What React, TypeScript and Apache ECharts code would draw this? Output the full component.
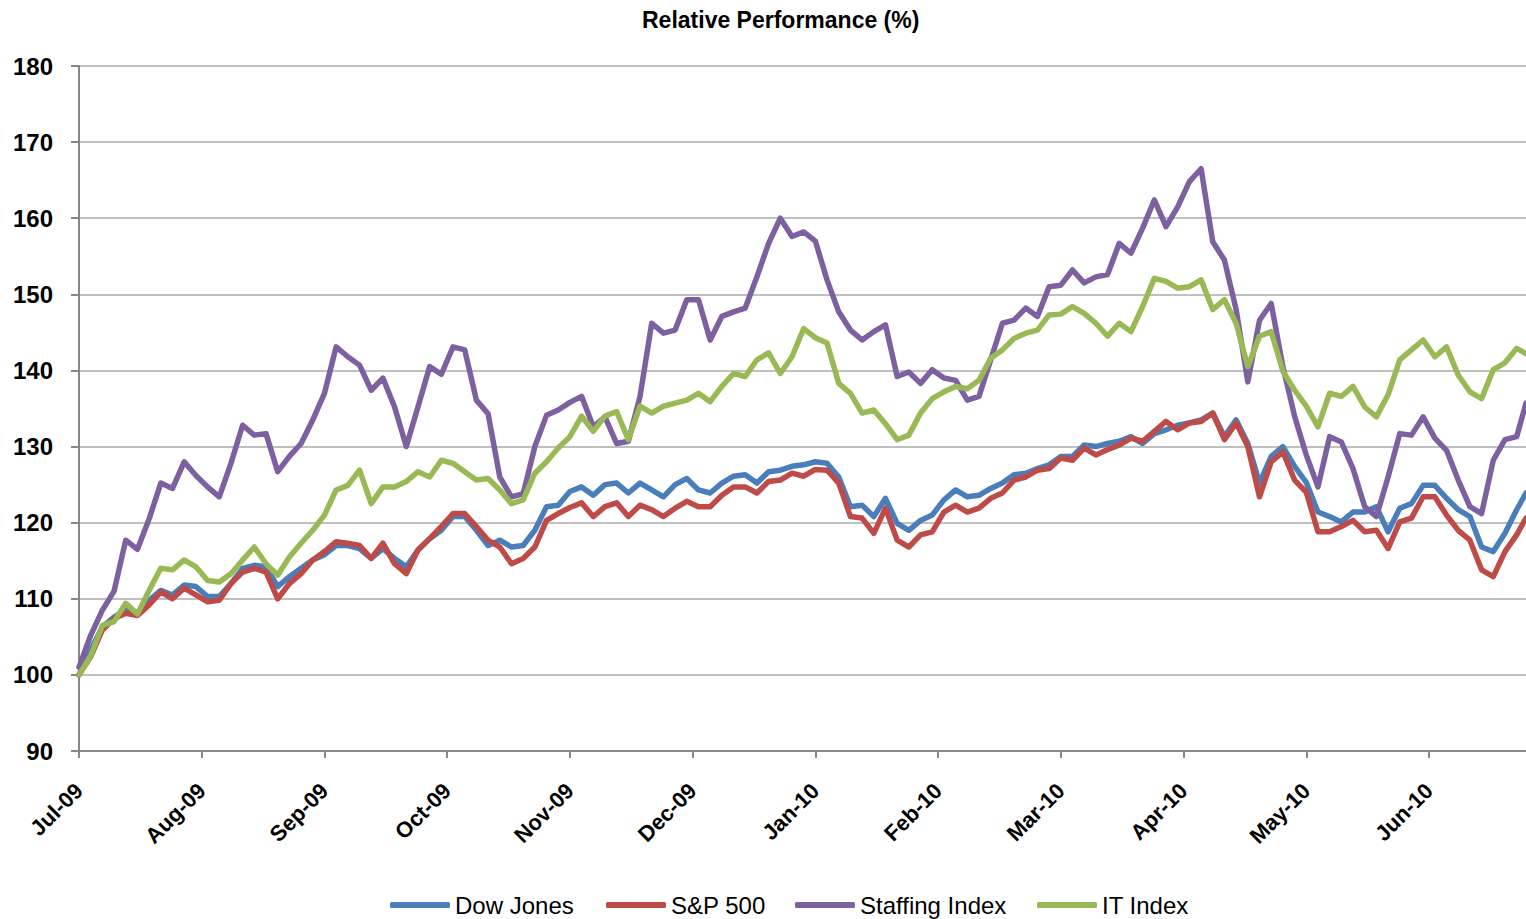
import React, { useEffect, useRef } from "react";
import * as echarts from "echarts";

// Trading-day index of each sampled point (every 2nd trading day; last = right edge)
const tradingDay = [
  0, 2, 4, 6, 8, 10, 12, 14, 16, 18, 20, 22, 24, 26, 28, 30, 32, 34, 36, 38,
  40, 42, 44, 46, 48, 50, 52, 54, 56, 58, 60, 62, 64, 66, 68, 70, 72, 74, 76, 78,
  80, 82, 84, 86, 88, 90, 92, 94, 96, 98, 100, 102, 104, 106, 108, 110, 112, 114, 116, 118,
  120, 122, 124, 126, 128, 130, 132, 134, 136, 138, 140, 142, 144, 146, 148, 150, 152, 154, 156, 158,
  160, 162, 164, 166, 168, 170, 172, 174, 176, 178, 180, 182, 184, 186, 188, 190, 192, 194, 196, 198,
  200, 202, 204, 206, 208, 210, 212, 214, 216, 218, 220, 222, 224, 226, 228, 230, 232, 234, 236, 238,
  240, 242, 244, 246, 247.6,
];

const monthLabels = [
  "Jul-09", "Aug-09", "Sep-09", "Oct-09", "Nov-09", "Dec-09",
  "Jan-10", "Feb-10", "Mar-10", "Apr-10", "May-10", "Jun-10",
];

const dowJones = [
  100, 103.3, 106.3, 107.6, 108.5, 108.1, 109.8, 111.1, 110.5, 111.8, 111.6, 110.3, 110.3, 112, 114, 114.4, 114.2, 111.6, 112.9, 114,
  115.1, 115.8, 117, 117, 116.6, 115.3, 116.6, 115.3, 114.2, 116.4, 117.9, 119, 120.8, 120.8, 119, 117, 117.7, 116.8, 117, 119,
  122.1, 122.3, 124.1, 124.7, 123.6, 125, 125.2, 123.9, 125.2, 124.3, 123.4, 125, 125.8, 124.3, 123.9, 125.2, 126.1, 126.3, 125.2, 126.7,
  126.9, 127.4, 127.6, 128, 127.8, 126, 122.1, 122.3, 120.8, 123.2, 119.9, 119, 120.3, 121, 123, 124.3, 123.4, 123.6, 124.5, 125.2,
  126.3, 126.5, 127.1, 127.6, 128.7, 128.7, 130.2, 130, 130.4, 130.7, 131.3, 130.4, 131.7, 132.2, 132.8, 133.1, 133.5, 134.4, 131.3, 133.5,
  130.4, 125.2, 128.7, 130, 127.4, 125.3, 121.4, 120.8, 120.1, 121.4, 121.4, 122.1, 118.8, 121.9, 122.5, 124.9, 124.9, 123.2, 121.7, 120.8,
  116.8, 116.2, 118.6, 121.7, 123.9,
];

const sp500 = [
  100, 102.4, 105.9, 107.4, 108.1, 107.8, 109.2, 110.9, 110, 111.4, 110.5, 109.6, 109.8, 112, 113.5, 114, 113.5, 110, 112, 113.3,
  115.1, 116.2, 117.5, 117.3, 117, 115.3, 117.3, 114.6, 113.3, 116.4, 117.9, 119.5, 121.2, 121.2, 119.5, 117.7, 116.8, 114.6, 115.3, 116.8,
  120.3, 121.2, 122, 122.6, 120.8, 122.1, 122.6, 120.8, 122.3, 121.7, 120.8, 121.9, 122.8, 122.1, 122.1, 123.6, 124.7, 124.7, 123.9, 125.4,
  125.6, 126.5, 126.1, 127, 126.9, 125.2, 120.8, 120.6, 118.6, 121.9, 117.7, 116.8, 118.4, 118.8, 121.4, 122.3, 121.4, 121.9, 123.2, 123.9,
  125.6, 126, 126.9, 127.1, 128.5, 128.2, 129.8, 128.9, 129.6, 130.2, 131.1, 130.7, 132, 133.3, 132.2, 133.1, 133.3, 134.4, 130.9, 133.1,
  130, 123.4, 128, 129.3, 125.6, 124, 118.8, 118.8, 119.5, 120.3, 118.8, 119, 116.6, 120.1, 120.6, 123.4, 123.4, 121, 119, 117.7,
  113.8, 112.9, 116.2, 118.4, 120.6,
];

const staffingIndex = [
  101, 105.2, 108.5, 111, 117.7, 116.5, 120.5, 125.2, 124.5, 128, 126.2, 124.7, 123.4, 127.8, 132.8, 131.5, 131.7, 126.7, 128.7, 130.4,
  133.5, 137, 143.1, 141.8, 140.7, 137.4, 139, 135.2, 130, 135.2, 140.5, 139.5, 143.1, 142.7, 136.1, 134.3, 126, 123.4, 123.8, 130,
  134.1, 134.8, 135.8, 136.6, 132.6, 133.9, 130.4, 130.7, 136.6, 146.2, 144.9, 145.3, 149.3, 149.3, 144, 147.1, 147.7, 148.2, 152.3, 156.7,
  160, 157.6, 158.2, 157, 151.9, 147.7, 145.3, 144, 145.1, 146, 139.2, 139.8, 138.3, 140.1, 139, 138.7, 136.1, 136.6, 141.4, 146.2,
  146.6, 148.2, 147.1, 151, 151.2, 153.2, 151.5, 152.3, 152.6, 156.7, 155.4, 158.7, 162.4, 158.9, 161.5, 164.8, 166.5, 156.9, 154.5, 148,
  138.5, 146.6, 148.8, 140.5, 134, 128.9, 124.7, 131.3, 130.6, 127.1, 122.1, 120.8, 126, 131.7, 131.5, 133.9, 131.1, 129.5, 125.6, 122.1,
  121.2, 128.2, 130.9, 131.3, 135.7,
];

const itIndex = [
  100, 102.5, 106.5, 107, 109.4, 108, 111.1, 114, 113.8, 115.1, 114.2, 112.4, 112.2, 113.3, 115.1, 116.8, 114.6, 113.1, 115.5, 117.3,
  119, 121, 124.3, 124.9, 126.9, 122.5, 124.7, 124.7, 125.4, 126.7, 126, 128.2, 127.8, 126.7, 125.6, 125.8, 124.3, 122.5, 123, 126.5,
  128, 129.8, 131.3, 134, 132, 134, 134.6, 130.9, 135.3, 134.4, 135.3, 135.7, 136.1, 137, 135.9, 137.9, 139.6, 139.2, 141.4, 142.3,
  139.6, 141.8, 145.5, 144.3, 143.6, 138.3, 137, 134.4, 134.8, 133, 130.9, 131.5, 134.4, 136.3, 137.2, 137.9, 137.6, 138.7, 141.6, 142.7,
  144.2, 144.9, 145.3, 147.3, 147.4, 148.4, 147.5, 146.2, 144.5, 146.2, 145.1, 148.4, 152.1, 151.7, 150.8, 151, 151.9, 148, 149.3, 146.2,
  140.5, 144.5, 145.1, 139.9, 137.4, 135.3, 132.6, 137, 136.6, 137.9, 135.2, 133.9, 136.8, 141.4, 142.7, 144, 141.8, 143.1, 139.4, 137.2,
  136.3, 140.1, 141, 142.9, 142.2,
];

const seriesNames = ["Dow Jones", "S&P 500", "Staffing Index", "IT Index"];
const seriesValues = [dowJones, sp500, staffingIndex, itIndex];
const seriesColors = ["#4A7EBB", "#BE4B48", "#7D60A0", "#98B954"];
const legendLeft = [390, 606, 795, 1037];

const FONT = "'Liberation Sans', Arial, Helvetica, sans-serif";

export default function App() {
  const ref = useRef<HTMLDivElement>(null);

  useEffect(() => {
    document.body.style.margin = "0";
    if (!ref.current) return;
    const chart = echarts.init(ref.current, undefined, { renderer: "svg" });

    const option: any = {
      animation: false,
      backgroundColor: "#ffffff",
      textStyle: { fontFamily: FONT },
      title: {
        text: "Relative Performance (%)",
        left: 637,
        top: 3,
        textStyle: { fontFamily: FONT, fontSize: 23, fontWeight: "bold", color: "#000" },
      },
      legend: seriesNames.map((name, i) => ({
        data: [name],
        left: legendLeft[i],
        top: 893,
        padding: 0,
        icon: "roundRect",
        itemWidth: 60,
        itemHeight: 6,
        textStyle: { fontFamily: FONT, fontSize: 24, color: "#000" },
      })),
      grid: { left: 79, right: 0, top: 66, bottom: 168, containLabel: false },
      xAxis: {
        type: "value",
        min: 0,
        max: 247.6,
        interval: 21,
        axisLine: { show: true, lineStyle: { color: "#878787", width: 2 } },
        axisTick: { show: true, length: 7, lineStyle: { color: "#878787", width: 2 } },
        splitLine: { show: false },
        axisLabel: {
          rotate: 45,
          margin: 36,
          showMaxLabel: false,
          fontFamily: FONT,
          fontSize: 22,
          fontWeight: "bold",
          color: "#000",
          formatter: (v: number) => {
            const i = Math.round(v / 21);
            return Math.abs(v - i * 21) < 0.01 && monthLabels[i] ? monthLabels[i] : "";
          },
        },
      },
      yAxis: {
        type: "value",
        min: 90,
        max: 180,
        interval: 10,
        axisLine: { show: true, lineStyle: { color: "#878787", width: 2 } },
        axisTick: { show: true, length: 8, lineStyle: { color: "#878787", width: 2 } },
        splitLine: { show: true, lineStyle: { color: "#C0C0C0", width: 2 } },
        axisLabel: {
          margin: 26,
          fontFamily: FONT,
          fontSize: 24,
          fontWeight: "bold",
          color: "#000",
        },
      },
      series: seriesNames.map((name, si) => ({
        name,
        type: "line",
        showSymbol: false,
        symbol: "none",
        data: tradingDay.map((d, i) => [d, seriesValues[si][i]]),
        itemStyle: { color: seriesColors[si] },
        lineStyle: { color: seriesColors[si], width: 5.5, cap: "round", join: "round" },
      })),
    };

    chart.setOption(option);
    return () => chart.dispose();
  }, []);

  return <div ref={ref} style={{ width: 1526, height: 919 }} />;
}
